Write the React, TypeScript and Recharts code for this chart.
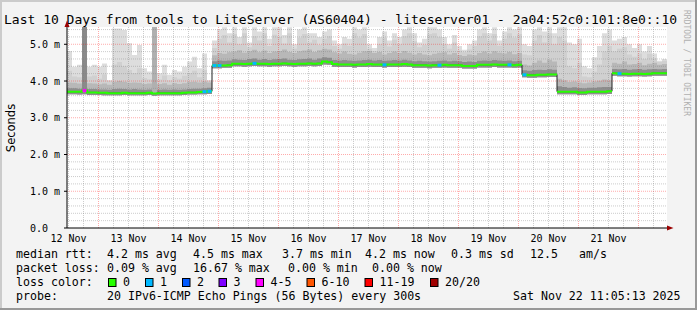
import React from "react";
import {
  ComposedChart,
  Area,
  Line,
  Scatter,
  XAxis,
  YAxis,
  CartesianGrid,
  ReferenceLine,
} from "recharts";

// time axis: hours since Nov 12 00:00, one bucket = 2 hours
const START = 11.4;
const STEP = 2;
const END = START + 120 * STEP;

const dayTicks = [12, 36, 60, 84, 108, 132, 156, 180, 204, 228];
const dayLabels = ["12 Nov", "13 Nov", "14 Nov", "15 Nov", "16 Nov", "17 Nov", "18 Nov", "19 Nov", "20 Nov", "21 Nov"];
const yTicks = [0, 1, 2, 3, 4, 5];
const yLabels = ["0.0", "1.0 m", "2.0 m", "3.0 m", "4.0 m", "5.0 m"];
const Y_MAX = 5.47;

// median rtt (ms) per bucket
const median = [
  3.71, 3.71, 3.71, 3.74, 3.69, 3.69, 3.68, 3.68, 3.67, 3.67, 3.67, 3.68, 3.67, 3.67, 3.67, 3.67, 3.68, 3.66, 3.67, 3.67, 3.67, 3.67, 3.67, 3.68, 3.69, 3.69, 3.70, 3.71, 3.72,
  4.42, 4.42, 4.42, 4.43, 4.47, 4.47, 4.46, 4.47, 4.48, 4.47, 4.47, 4.46, 4.47, 4.47, 4.48, 4.47, 4.46, 4.47, 4.47, 4.48, 4.47, 4.48, 4.53, 4.51,
  4.46, 4.45, 4.45, 4.45, 4.44, 4.45, 4.45, 4.46, 4.45, 4.45, 4.44, 4.45, 4.45, 4.45, 4.46, 4.45, 4.43, 4.43, 4.43, 4.42, 4.43, 4.43, 4.44, 4.43, 4.43, 4.43,
  4.41, 4.41, 4.41, 4.44, 4.44, 4.44, 4.45, 4.44, 4.44, 4.44, 4.43, 4.44,
  4.17, 4.16, 4.16, 4.17, 4.17, 4.18, 4.18,
  3.71, 3.71, 3.71, 3.71, 3.69, 3.69, 3.71, 3.71, 3.71, 3.71, 3.72,
  4.21, 4.20, 4.20, 4.19, 4.20, 4.20, 4.19, 4.20, 4.21, 4.21, 4.21,
];

// smoke: lowest ping
const lo = [
  3.64, 3.64, 3.63, 3.64, 3.62, 3.62, 3.62, 3.61, 3.61, 3.61, 3.61, 3.62, 3.61, 3.61, 3.61, 3.61, 3.62, 3.60, 3.61, 3.61, 3.61, 3.61, 3.61, 3.62, 3.63, 3.63, 3.64, 3.64, 3.65,
  4.35, 4.35, 4.36, 4.36, 4.40, 4.40, 4.39, 4.40, 4.41, 4.40, 4.40, 4.39, 4.40, 4.40, 4.41, 4.40, 4.39, 4.40, 4.40, 4.41, 4.40, 4.41, 4.45, 4.44,
  4.39, 4.38, 4.38, 4.38, 4.37, 4.38, 4.38, 4.39, 4.38, 4.38, 4.37, 4.38, 4.38, 4.38, 4.39, 4.38, 4.36, 4.36, 4.36, 4.35, 4.36, 4.36, 4.37, 4.36, 4.36, 4.36,
  4.34, 4.34, 4.34, 4.37, 4.37, 4.37, 4.38, 4.37, 4.37, 4.37, 4.36, 4.37,
  4.10, 4.09, 4.09, 4.10, 4.10, 4.11, 4.11,
  3.64, 3.64, 3.64, 3.64, 3.62, 3.62, 3.64, 3.64, 3.64, 3.64, 3.65,
  4.14, 4.13, 4.13, 4.12, 4.13, 4.13, 4.12, 4.13, 4.14, 4.14, 4.14,
];

// smoke: dense band top
const q1 = [
  3.80, 3.80, 3.79, 3.84, 3.78, 3.78, 3.77, 3.77, 3.76, 3.78, 3.79, 3.78, 3.77, 3.78, 3.77, 3.76, 3.77, 3.79, 3.76, 3.77, 3.76, 3.77, 3.76, 3.77, 3.78, 3.79, 3.79, 3.80, 3.82,
  4.54, 4.56, 4.55, 4.56, 4.59, 4.58, 4.57, 4.60, 4.61, 4.58, 4.60, 4.57, 4.59, 4.60, 4.61, 4.58, 4.57, 4.59, 4.60, 4.61, 4.58, 4.61, 4.65, 4.63,
  4.57, 4.56, 4.57, 4.56, 4.55, 4.56, 4.57, 4.58, 4.56, 4.57, 4.55, 4.56, 4.57, 4.56, 4.58, 4.56, 4.54, 4.55, 4.54, 4.53, 4.54, 4.55, 4.56, 4.54, 4.55, 4.54,
  4.52, 4.53, 4.52, 4.55, 4.56, 4.55, 4.57, 4.56, 4.55, 4.56, 4.54, 4.55,
  4.29, 4.28, 4.30, 4.31, 4.30, 4.32, 4.31,
  3.86, 3.84, 3.82, 3.83, 3.81, 3.80, 3.82, 3.82, 3.83, 3.84, 3.84,
  4.33, 4.32, 4.33, 4.31, 4.32, 4.33, 4.31, 4.32, 4.33, 4.32, 4.33,
];

// smoke: middle band top
const q2 = [
  3.96, 3.95, 3.93, 4.02, 3.94, 3.93, 3.91, 3.93, 3.90, 3.98, 4.00, 3.98, 3.95, 3.96, 3.95, 3.92, 3.93, 3.97, 3.92, 3.94, 3.90, 3.94, 3.92, 3.94, 3.97, 3.98, 3.96, 3.99, 3.96,
  4.70, 4.76, 4.74, 4.78, 4.80, 4.84, 4.77, 4.81, 4.85, 4.78, 4.83, 4.76, 4.80, 4.82, 4.86, 4.79, 4.76, 4.81, 4.83, 4.86, 4.79, 4.84, 4.88, 4.86,
  4.78, 4.75, 4.80, 4.74, 4.72, 4.77, 4.81, 4.82, 4.76, 4.79, 4.72, 4.76, 4.80, 4.76, 4.82, 4.77, 4.72, 4.76, 4.72, 4.70, 4.74, 4.77, 4.78, 4.72, 4.76, 4.71,
  4.68, 4.72, 4.70, 4.76, 4.80, 4.75, 4.81, 4.77, 4.75, 4.79, 4.73, 4.76,
  4.45, 4.42, 4.50, 4.56, 4.50, 4.58, 4.53,
  4.06, 4.02, 3.97, 3.99, 3.96, 3.94, 3.96, 3.99, 4.01, 4.04, 4.02,
  4.50, 4.47, 4.53, 4.45, 4.46, 4.50, 4.43, 4.47, 4.50, 4.44, 4.46,
];

// smoke: outer band top
const q3 = [
  4.28, 4.12, 4.10, 4.18, 4.12, 4.15, 4.06, 4.18, 4.00, 4.45, 4.52, 4.40, 4.30, 4.22, 4.35, 4.08, 4.05, 4.12, 4.04, 4.15, 4.02, 4.10, 4.06, 4.14, 4.22, 4.28, 4.10, 4.30, 4.00,
  4.90, 5.15, 5.25, 5.05, 5.28, 5.00, 5.30, 4.92, 5.22, 5.10, 5.30, 4.95, 5.26, 5.20, 5.02, 5.30, 4.88, 5.18, 5.28, 5.05, 5.12, 4.98, 5.15, 5.22,
  4.95, 4.88, 5.02, 4.96, 5.30, 5.18, 5.28, 4.88, 4.82, 5.00, 5.18, 4.94, 5.12, 5.00, 5.22, 5.30, 5.08, 4.92, 4.98, 5.28, 5.30, 5.20, 5.00, 4.88, 5.05, 4.83,
  4.78, 4.86, 4.95, 5.22, 5.30, 5.10, 5.28, 4.96, 5.15, 5.30, 5.18, 5.28,
  4.72, 4.70, 5.10, 5.25, 5.05, 5.30, 5.00,
  5.20, 5.10, 4.40, 4.35, 4.50, 4.12, 4.10, 4.25, 4.45, 4.80, 4.95,
  4.80, 4.88, 4.92, 4.72, 4.66, 4.75, 4.60, 4.74, 4.62, 4.52, 4.55,
];

// smoke: highest ping
const peak = [
  4.82, 4.39, 4.44, 4.45, 4.39, 4.44, 4.39, 4.48, 4.03, 5.43, 5.43, 5.39, 5.03, 4.71, 4.98, 4.35, 4.26, 4.30, 4.21, 4.44, 4.17, 4.30, 4.26, 4.39, 4.53, 4.66, 4.35, 4.75, 4.03,
  5.10, 5.40, 5.46, 5.30, 5.46, 5.20, 5.46, 5.05, 5.46, 5.35, 5.46, 5.15, 5.46, 5.46, 5.25, 5.46, 5.00, 5.40, 5.46, 5.30, 5.30, 5.20, 5.35, 5.40,
  5.10, 5.00, 5.20, 5.15, 5.46, 5.40, 5.46, 5.00, 4.90, 5.20, 5.35, 5.10, 5.30, 5.20, 5.40, 5.46, 5.30, 5.05, 5.15, 5.46, 5.46, 5.40, 5.20, 5.00, 5.25, 4.95,
  4.85, 5.00, 5.10, 5.40, 5.46, 5.30, 5.46, 5.10, 5.35, 5.46, 5.40, 5.46,
  5.00, 4.95, 5.40, 5.46, 5.35, 5.46, 5.30,
  5.46, 5.46, 5.05, 5.00, 5.15, 4.40, 4.35, 4.65, 4.95, 5.30, 5.40,
  5.10, 5.15, 5.20, 5.00, 4.90, 5.00, 4.80, 4.95, 4.75, 4.55, 4.60,
];

// buckets with a full-height smoke column (pings off the scale)
const columnBuckets = [3, 17];
const columnPeak = [5.47, 5.47];

// buckets where packets were lost, and how many of 20
const lossBuckets = [3, 27, 28, 29, 30, 37, 63, 74, 88, 91, 110];
const lossCounts = [4, 1, 1, 1, 1, 1, 1, 1, 1, 1, 1];

const lossLabels = ["0", "1", "2", "3", "4-5", "6-10", "11-19", "20/20"];
const lossColors = ["#26ff00", "#00b8ff", "#0059ff", "#7e00ff", "#ff00ff", "#ff5500", "#ff0000", "#a00000"];

const lossColorFor = (n: number) => {
  if (n <= 3) return lossColors[n];
  if (n <= 5) return lossColors[4];
  if (n <= 10) return lossColors[5];
  if (n <= 19) return lossColors[6];
  return lossColors[7];
};

// split the median into plateaus so the colored line leaves the jumps black
const N = median.length;
const segOf: number[] = [];
let seg = 0;
for (let k = 0; k < N; k++) {
  if (k > 0 && Math.abs(median[k] - median[k - 1]) > 0.15) seg++;
  segOf.push(seg);
}
const segIds = Array.from({ length: seg + 1 }, (_, i) => i);

const rows: any[] = [];
for (let k = 0; k <= N; k++) {
  const i = Math.min(k, N - 1);
  const row: any = {
    t: START + k * STEP,
    median: median[i],
    smoke: [lo[i], peak[i]],
    band3: [lo[i], q3[i]],
    band2: [lo[i], q2[i]],
    band1: [lo[i], q1[i]],
  };
  if (k < N) row[`g${segOf[k]}`] = median[k];
  if (k > 0 && (k === N || segOf[k] !== segOf[k - 1])) row[`g${segOf[k - 1]}`] = median[k - 1];
  rows.push(row);
}
columnBuckets.forEach((b, j) => {
  const key = `col${j}`;
  rows[b][key] = [median[b], columnPeak[j]];
  rows[b + 1][key] = [median[b], columnPeak[j]];
});

const lossPoints = lossBuckets.map((b, j) => ({
  t: START + b * STEP + STEP / 2,
  v: median[b],
  loss: lossCounts[j],
}));

// grid positions
const minorX: number[] = [];
for (let h = 12; h < END; h += 6) if (h % 24 !== 0) minorX.push(h);
const majorX: number[] = [];
for (let h = 24; h < END; h += 24) majorX.push(h);
const minorY: number[] = [];
for (let v = 1; v <= 27; v++) if (v % 5 !== 0) minorY.push(Math.round(v * 20) / 100);

const MONO = "DejaVu Sans Mono";
const GRID = "rgba(128,128,128,0.4)";
const MGRID = "rgba(255,0,0,0.33)";

const XTick = (props: any) => {
  const { x, y, payload } = props;
  return (
    <text x={x} y={y + 13.5} textAnchor="middle" fontFamily={MONO} fontSize={10} fill="#000">
      {dayLabels[dayTicks.indexOf(payload.value)]}
    </text>
  );
};

const YTick = (props: any) => {
  const { x, y, payload } = props;
  return (
    <text x={x - 34} y={y + 3.5} textAnchor="start" fontFamily={MONO} fontSize={10} fill="#000">
      {yLabels[yTicks.indexOf(payload.value)]}
    </text>
  );
};

const LossMark = (props: any) => {
  const { cx, cy, payload } = props;
  return <rect x={cx - 2} y={cy - 1.5} width={4} height={3} fill={lossColorFor(payload.loss)} />;
};

const legendRows = [
  [
    [16, "median rtt:"],
    [107, "4.2 ms avg"],
    [193, "4.5 ms max"],
    [282, "3.7 ms min"],
    [365, "4.2 ms now"],
    [451, "0.3 ms sd"],
    [530, "12.5"],
    [579, "am/s"],
  ],
  [
    [16, "packet loss:"],
    [107, "0.09 % avg"],
    [193, "16.67 % max"],
    [288, "0.00 % min"],
    [372, "0.00 % now"],
  ],
  [[16, "loss color:"]],
  [
    [16, "probe:"],
    [107, "20 IPv6-ICMP Echo Pings (56 Bytes) every 300s"],
    [513, "Sat Nov 22 11:05:13 2025"],
  ],
] as [number, string][][];

const boxX = [108.5, 145.5, 182.5, 219, 256, 307, 365, 430.5];

export default function App() {
  return (
    <div
      style={{
        position: "absolute",
        left: 0,
        top: 0,
        width: 697,
        height: 310,
        background: "#f3f3f3",
        overflow: "hidden",
      }}
    >
      <ComposedChart width={697} height={310} data={rows} margin={{ top: 27, right: 30, bottom: 62, left: 7 }}>
        <CartesianGrid fill="#ffffff" horizontal={false} vertical={false} />
        <XAxis
          type="number"
          dataKey="t"
          domain={[START, END]}
          ticks={dayTicks}
          interval={0}
          allowDataOverflow
          height={20}
          tickLine={false}
          tickSize={0}
          tickMargin={0}
          axisLine={{ stroke: "#000" }}
          tick={XTick}
        />
        <YAxis
          type="number"
          domain={[0, Y_MAX]}
          ticks={yTicks}
          interval={0}
          allowDataOverflow
          width={60}
          tickSize={3}
          tickMargin={0}
          tickLine={{ stroke: "#000" }}
          axisLine={{ stroke: "#000" }}
          tick={YTick}
        />
        <Area type="stepAfter" dataKey="smoke" stroke="none" fill="#dddddd" fillOpacity={1} isAnimationActive={false} activeDot={false} />
        <Area type="stepAfter" dataKey="band3" stroke="none" fill="#d0d0d0" fillOpacity={1} isAnimationActive={false} activeDot={false} />
        <Area type="stepAfter" dataKey="band2" stroke="none" fill="#b8b8b8" fillOpacity={1} isAnimationActive={false} activeDot={false} />
        <Area type="stepAfter" dataKey="band1" stroke="none" fill="#8e8e8e" fillOpacity={1} isAnimationActive={false} activeDot={false} />
        <Area type="stepAfter" dataKey="col0" stroke="none" fill="#8a8a8a" fillOpacity={1} isAnimationActive={false} activeDot={false} />
        <Area type="stepAfter" dataKey="col1" stroke="none" fill="#b0b0b0" fillOpacity={1} isAnimationActive={false} activeDot={false} />
        {minorY.map((v) => (
          <ReferenceLine key={`my${v}`} y={v} stroke={GRID} strokeDasharray="1 1" />
        ))}
        {minorX.map((h) => (
          <ReferenceLine key={`mx${h}`} x={h} stroke={GRID} strokeDasharray="1 1" />
        ))}
        {yTicks.slice(1).map((v) => (
          <ReferenceLine key={`My${v}`} y={v} stroke={MGRID} strokeDasharray="1 1" />
        ))}
        {majorX.map((h) => (
          <ReferenceLine key={`Mx${h}`} x={h} stroke={MGRID} strokeDasharray="1 1" />
        ))}
        <Line type="stepAfter" dataKey="median" stroke="#202020" strokeWidth={1} dot={false} activeDot={false} isAnimationActive={false} />
        {segIds.map((s) => (
          <Line
            key={s}
            type="stepAfter"
            dataKey={`g${s}`}
            stroke={lossColors[0]}
            strokeWidth={2}
            dot={false}
            activeDot={false}
            isAnimationActive={false}
          />
        ))}
        <Scatter data={lossPoints} dataKey="v" shape={LossMark} isAnimationActive={false} />
      </ComposedChart>

      <svg
        width={697}
        height={310}
        style={{ position: "absolute", left: 0, top: 0, pointerEvents: "none" }}
      >
        <rect x={0} y={0} width={697} height={2} fill="#cbcbcb" />
        <rect x={0} y={0} width={2} height={310} fill="#cbcbcb" />
        <rect x={695} y={0} width={2} height={310} fill="#999999" />
        <rect x={0} y={308} width={697} height={2} fill="#999999" />

        <text x={4} y={24} fontFamily={MONO} fontSize={13} fill="#000">
          Last 10 Days from tools to LiteServer (AS60404) - liteserver01 - 2a04:52c0:101:8e0::10
        </text>
        <text
          transform="translate(15,128) rotate(-90)"
          textAnchor="middle"
          fontFamily="DejaVu Sans"
          fontSize={11.5}
          fill="#000"
        >
          Seconds
        </text>
        <text transform="translate(684,10) rotate(90)" fontFamily={MONO} fontSize={8} fill="#b0b0b0">
          RRDTOOL / TOBI OETIKER
        </text>

        <polygon points="64.5,27 69.5,27 67,20.5" fill="#9a0000" />
        <polygon points="667,225.5 667,230.5 673.5,228" fill="#9a0000" />

        {legendRows.map((row, r) =>
          row.map(([x, s], i) => (
            <text key={`${r}-${i}`} x={x} y={258 + r * 14} fontFamily={MONO} fontSize={11.6} fill="#000" xmlSpace="preserve">
              {s}
            </text>
          ))
        )}
        {lossLabels.map((lab, i) => (
          <g key={lab}>
            <rect x={boxX[i]} y={278.5} width={7.5} height={8} fill={lossColors[i]} stroke="#000" strokeWidth={1} />
            <text x={boxX[i] + 14.5} y={286} fontFamily={MONO} fontSize={11.6} fill="#000">
              {lab}
            </text>
          </g>
        ))}
      </svg>
    </div>
  );
}
